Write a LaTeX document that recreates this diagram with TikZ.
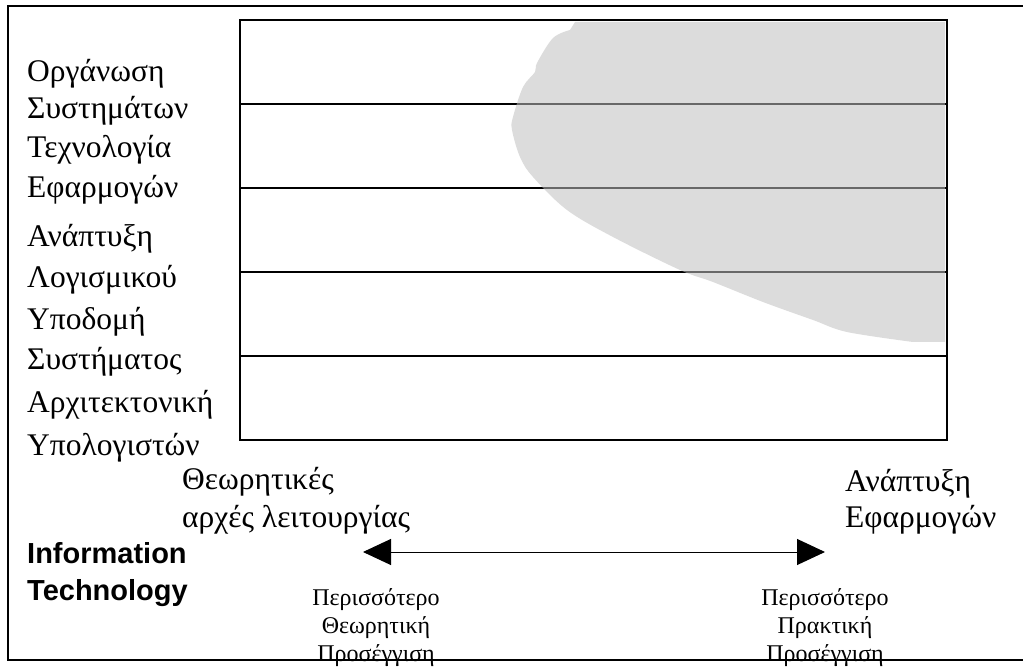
\documentclass[tikz,border=0pt]{standalone}
\usepackage{fontspec}
\setmainfont{Liberation Serif}
\newfontfamily\itsans{Liberation Sans}
\usetikzlibrary{arrows.meta}

\tikzset{
  layer/.style={anchor=base west, inner sep=0pt, font=\fontsize{31.5}{38}\selectfont},
  pole/.style={anchor=base west, inner sep=0pt, font=\fontsize{31.5}{38}\selectfont},
  itlabel/.style={anchor=base west, inner sep=0pt, font=\itsans\bfseries\fontsize{29}{32}\selectfont},
  approach/.style={anchor=base, inner sep=0pt, align=center, font=\fontsize{24}{28}\selectfont},
  frame/.style={line width=1.6pt},
  area/.style={fill=black!25, fill opacity=.55},
}

\begin{document}
\begin{tikzpicture}[x=1pt, y=-1pt]
    \useasboundingbox (0,0) rectangle (1023,668);
    % outer frame (open on the right)
    \draw[frame] (1040,6) -- (8,6) -- (8,660) -- (1040,660);
    % layers
    \draw[frame] (240,20) rectangle (947,440);
    \foreach \y in {104,188,272,356}
        \draw[frame] (240,\y) -- (947,\y);
    % shaded area
    \fill[area] (575,22) -- (945,22) -- (945,342) -- plot[smooth, tension=.55] coordinates {
        (913,342) (847,332) (813,320) (763,302) (713,282) (680,270) (613,237)
        (567,210) (533,177) (520,157) (512,130) (513,117) (523,87) (535,72)
        (537,63) (553,38) (570,30)} -- cycle;
    % layer names
    \node[layer] (org1) at (27,82) {Οργάνωση};
    \node[layer] (org2) at (27,119) {Συστημάτων};
    \node[layer] (tec1) at (27,158) {Τεχνολογία};
    \node[layer] (tec2) at (27,198) {Εφαρμογών};
    \node[layer] (log1) at (27,247) {Ανάπτυξη};
    \node[layer] (log2) at (27,288) {Λογισμικού};
    \node[layer] (sys1) at (27,330) {Υποδομή};
    \node[layer] (sys2) at (27,370) {Συστήματος};
    \node[layer] (arc1) at (27,412) {Αρχιτεκτονική};
    \node[layer] (arc2) at (27,455) {Υπολογιστών};
    % poles
    \node[pole] (theo1) at (182,489) {Θεωρητικές};
    \node[pole] (theo2) at (182,527) {αρχές λειτουργίας};
    \node[pole] (app1) at (845,491) {Ανάπτυξη};
    \node[pole] (app2) at (845,527) {Εφαρμογών};
    \node[itlabel] (it1) at (27,563) {Information};
    \node[itlabel] (it2) at (27,600) {Technology};
    % arrow
    \coordinate (tleft) at (363,552);
    \coordinate (tright) at (825,552);
    \draw[line width=1pt, {Triangle[length=28pt,width=26pt]}-{Triangle[length=28pt,width=26pt]}] (tleft) -- (tright);
    \node[approach] (more1) at (376,661) {Περισσότερο\\Θεωρητική\\Προσέγγιση};
    \node[approach] (more2) at (825,661) {Περισσότερο\\Πρακτική\\Προσέγγιση};
\end{tikzpicture}
\end{document}
